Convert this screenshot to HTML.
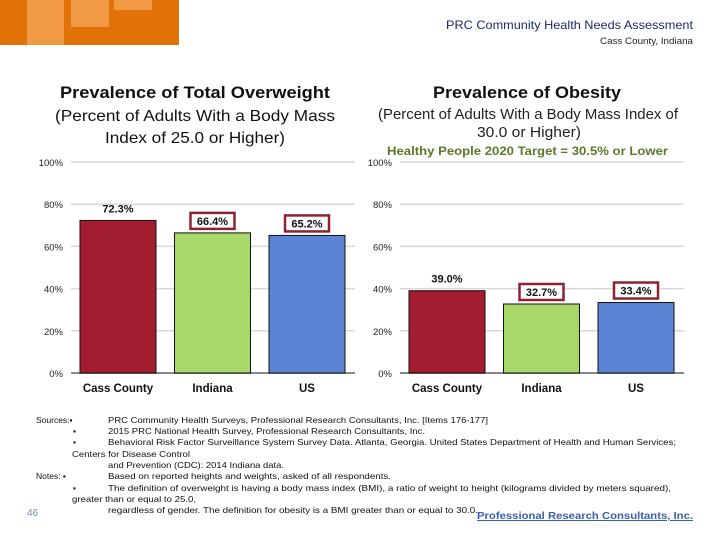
<!DOCTYPE html>
<html><head><meta charset="utf-8"><style>
body{margin:0;width:720px;height:540px;background:#fff;overflow:hidden;position:relative;font-family:"Liberation Sans",sans-serif}
</style></head><body>
<svg width="720" height="540" style="position:absolute;left:0;top:0" font-family="Liberation Sans">
<g>
<rect x="0" y="0" width="179" height="45" fill="#e17208"/>
<rect x="27" y="0" width="37" height="45" fill="#f29a43"/>
<rect x="71" y="0" width="38" height="27" fill="#f29a43"/>
<rect x="114" y="0" width="38" height="10" fill="#f29a43"/>
</g>
<text x="446" y="29" textLength="247" lengthAdjust="spacingAndGlyphs" font-size="12" fill="#1a2a6c">PRC Community Health Needs Assessment</text>
<text x="600" y="44" textLength="93" lengthAdjust="spacingAndGlyphs" font-size="9" fill="#222">Cass County, Indiana</text>

<text x="60" y="98" textLength="270" lengthAdjust="spacingAndGlyphs" font-size="17" font-weight="bold" fill="#111">Prevalence of Total Overweight</text>
<g font-size="16" fill="#111">
<text x="55" y="121" textLength="280" lengthAdjust="spacingAndGlyphs">(Percent of Adults With a Body Mass</text>
<text x="105" y="143" textLength="180" lengthAdjust="spacingAndGlyphs">Index of 25.0 or Higher)</text>
</g>
<text x="433" y="98" textLength="188" lengthAdjust="spacingAndGlyphs" font-size="17" font-weight="bold" fill="#111">Prevalence of Obesity</text>
<g font-size="14.5" fill="#222">
<text x="378" y="119" textLength="300" lengthAdjust="spacingAndGlyphs">(Percent of Adults With a Body Mass Index of</text>
<text x="477" y="137" textLength="104" lengthAdjust="spacingAndGlyphs">30.0 or Higher)</text>
</g>
<text x="387" y="155" textLength="281" lengthAdjust="spacingAndGlyphs" font-size="12" font-weight="bold" fill="#5a7a2a">Healthy People 2020 Target = 30.5%  or Lower</text>

<g id="charts"></g>

<g font-size="8.5" fill="#111">
<text x="36" y="423">Sources:▪</text>
<text x="108" y="423" textLength="380" lengthAdjust="spacingAndGlyphs">PRC Community Health Surveys, Professional Research Consultants, Inc.  [Items 176-177]</text>
<text x="73" y="434">▪</text>
<text x="108" y="434" textLength="317" lengthAdjust="spacingAndGlyphs">2015 PRC National Health Survey, Professional Research Consultants, Inc.</text>
<text x="73" y="445">▪</text>
<text x="108" y="445" textLength="568" lengthAdjust="spacingAndGlyphs">Behavioral Risk Factor Surveillance System Survey Data. Atlanta, Georgia.  United States Department of Health and Human Services;</text>
<text x="72" y="457" textLength="118" lengthAdjust="spacingAndGlyphs">Centers for Disease Control</text>
<text x="108" y="468" textLength="176" lengthAdjust="spacingAndGlyphs">and Prevention (CDC): 2014 Indiana data.</text>
<text x="36" y="479">Notes:  ▪</text>
<text x="108" y="479" textLength="283" lengthAdjust="spacingAndGlyphs">Based on reported heights and weights, asked of all respondents.</text>
<text x="73" y="491">▪</text>
<text x="108" y="491" textLength="563" lengthAdjust="spacingAndGlyphs">The definition of overweight is having a body mass index (BMI), a ratio of weight to height (kilograms divided by meters squared),</text>
<text x="72" y="502" textLength="124" lengthAdjust="spacingAndGlyphs">greater than or equal to 25.0,</text>
<text x="108" y="513" textLength="370" lengthAdjust="spacingAndGlyphs">regardless of gender.  The definition for obesity is a BMI greater than or equal to 30.0.</text>
</g>
<text x="27" y="516" font-size="10" fill="#6b8cb4">46</text>
<text x="477" y="519" textLength="216" lengthAdjust="spacingAndGlyphs" font-size="10" font-weight="bold" fill="#3b5fa8" text-decoration="underline">Professional Research Consultants, Inc.</text>
</svg>
<script>
const categories = ["Cass County","Indiana","US"];
const overweightValues = [72.3,66.4,65.2];
const obesityValues = [39.0,32.7,33.4];
const tickLabels = ["0%","20%","40%","60%","80%","100%"];
const tickValues = [0,20,40,60,80,100];
const colors = ["#a31c30","#a8d86a","#5b84d4"];
const NS="http://www.w3.org/2000/svg";
const g=document.getElementById('charts');
function mk(tag,attrs,parent){const e=document.createElementNS(NS,tag);for(const k in attrs)e.setAttribute(k,attrs[k]);(parent||g).appendChild(e);return e;}
function drawChart(x0,values,prefix){
  const y0=373,y100=162,w=284;
  const y=v=>y0-(v/100)*(y0-y100);
  tickValues.forEach((t,i)=>{
    const ln=mk('line',{x1:x0,x2:x0+w,y1:y(t),y2:y(t),stroke:t===0?'#888':'#d8d8d8','stroke-width':t===0?2:1.5});
    
    
    const tx=mk('text',{x:x0-8,y:y(t)+4,'text-anchor':'end','font-size':9.5,fill:'#222'});
    tx.textContent=tickLabels[i];
    
    
  });
  const pitch=94.5,bw=76;
  values.forEach((v,i)=>{
    const bx=x0+9+i*pitch;
    const r=mk('rect',{x:bx,y:y(v),width:bw,height:y0-y(v),fill:colors[i],stroke:'#111','stroke-width':1});
    
    
    const lbl=v.toFixed(1)+'%';
    const cx=bx+bw/2,ly=y(v)-8;
    if(i>0){
      const b=mk('rect',{x:cx-22,y:ly-12,width:44,height:16,fill:'#fff',stroke:'#8b2332','stroke-width':2.5});
      
      
    }
    const t=mk('text',{x:cx,y:ly,'text-anchor':'middle','font-size':11,'font-weight':'bold',fill:'#111'});
    t.textContent=lbl;
    
    
    const c=mk('text',{x:cx,y:392,'text-anchor':'middle','font-size':11.5,'font-weight':'bold',fill:'#111'});
    c.textContent=categories[i];
    
    
  });
}
drawChart(71,overweightValues,'overweight');
drawChart(400,obesityValues,'obesity');
</script>
</body></html>
